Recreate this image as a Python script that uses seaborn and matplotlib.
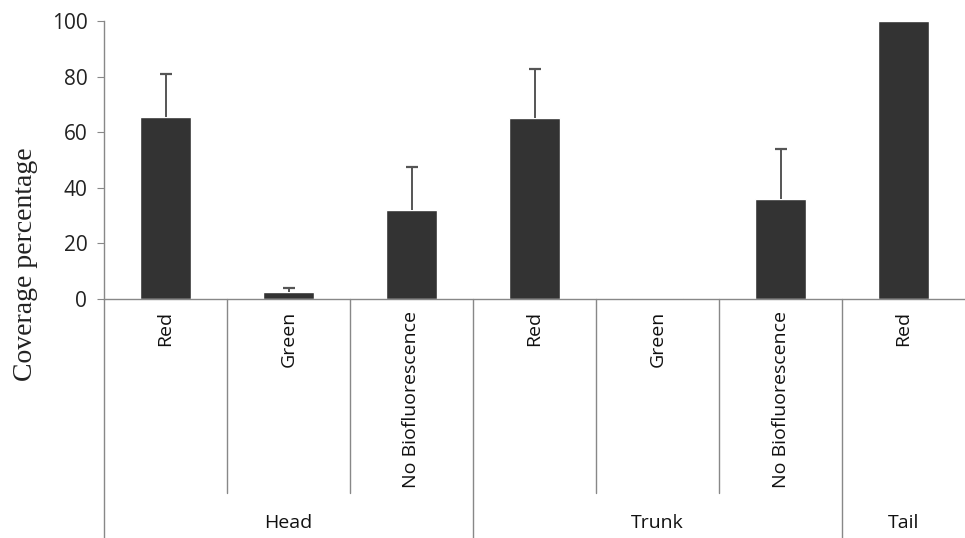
import matplotlib
matplotlib.use("Agg")
import matplotlib.pyplot as plt
import matplotlib.transforms as mtransforms
import seaborn as sns
import pandas as pd

# values
regions = ["Head", "Head", "Head", "Trunk", "Trunk", "Trunk", "Tail"]
colours = ["Red", "Green", "No Biofluorescence", "Red", "Green", "No Biofluorescence", "Red"]
coverage = [65.5, 2.5, 32.0, 65.0, 0.3, 36.0, 100.0]
errors = [15.3, 1.3, 15.5, 17.7, 0.0, 17.8, 0.0]
group_names = ["Head", "Trunk", "Tail"]
group_spans = [(0, 2), (3, 5), (6, 6)]

df = pd.DataFrame({"slot": range(len(colours)), "colour": colours,
                   "region": regions, "coverage": coverage})

sns.set_style("white")
plt.rcParams["font.family"] = ["Open Sans", "DejaVu Sans"]

fig = plt.figure(figsize=(9.65, 5.38), dpi=100)
W, H = 965, 538
ax = fig.add_axes([104 / W, (H - 299) / H, (W - 104) / W, (299 - 21) / H])

sns.barplot(data=df, x="slot", y="coverage", color="#333333", width=0.41,
            saturation=1, errorbar=None, ax=ax)

# Excel-style upper-only error bars
for i, (v, e) in enumerate(zip(coverage, errors)):
    if e > 0:
        ax.vlines(i, v, v + e, color="#555555", lw=1.4, zorder=3)
        ax.plot([i], [v + e], marker="_", ms=9, mew=1.6, color="#555555", zorder=3)

ax.set_xlim(-0.5, 6.5)
ax.set_ylim(0, 100)
ax.set_yticks([0, 20, 40, 60, 80, 100])
ax.tick_params(axis="y", labelsize=15, length=5, color="#888888", left=True,
               direction="out", pad=7, labelcolor="#222222")
ax.set_xticks([])
ax.set_xlabel("")
ax.set_ylabel("Coverage percentage", fontsize=20, family="Liberation Serif",
              color="#222222")
# label sits centred on the whole chart height, not just the plot area
ax.yaxis.set_label_coords(-66 / (W - 104), (299 - 264) / (299 - 21))

for side in ["top", "right"]:
    ax.spines[side].set_visible(False)
for side in ["left", "bottom"]:
    ax.spines[side].set_color("#888888")
    ax.spines[side].set_linewidth(1.0)

# category separators below the axis
trans = mtransforms.blended_transform_factory(ax.transData, fig.transFigure)
short_bottom = (H - 493) / H
long_bottom = 0.0
axis_y = (H - 299) / H
long_lines = [-0.5, 2.5, 5.5]
short_lines = [0.5, 1.5, 3.5, 4.5]
for x in long_lines:
    fig.add_artist(plt.Line2D([x, x], [axis_y, long_bottom], transform=trans,
                              color="#888888", lw=1.0))
for x in short_lines:
    fig.add_artist(plt.Line2D([x, x], [axis_y, short_bottom], transform=trans,
                              color="#888888", lw=1.0))

for i, name in enumerate(colours):
    fig.text(i, (H - 311) / H, name, transform=trans, rotation=90,
             ha="center", va="top", fontsize=14, color="#111111")

for name, (a, b) in zip(group_names, group_spans):
    fig.text((a + b) / 2, (H - 523) / H, name, transform=trans,
             ha="center", va="center", fontsize=14, color="#111111")

fig.savefig("out.png", dpi=100, facecolor="white")
